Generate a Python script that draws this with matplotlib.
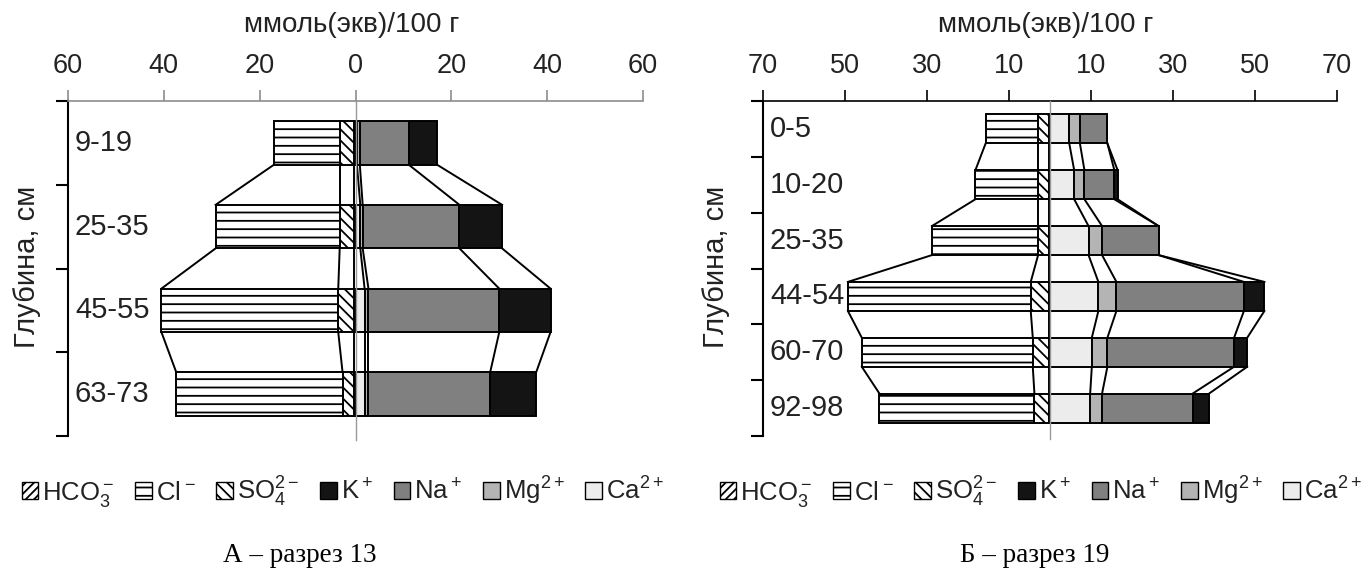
import numpy as np
import matplotlib
matplotlib.use('Agg')
import matplotlib.pyplot as plt
from matplotlib.patches import Patch

plt.rcParams['font.family'] = ['Liberation Sans', 'DejaVu Sans']
plt.rcParams['mathtext.fontset'] = 'custom'
plt.rcParams['mathtext.rm'] = 'Liberation Sans'
plt.rcParams['mathtext.default'] = 'regular'
plt.rcParams['hatch.linewidth'] = 1.3

# --- data, mmol(eq)/100 g ---
a_depth = ['9-19', '25-35', '45-55', '63-73']
a_hco3 = [0.3, 0.3, 0.3, 0.3]
a_so4 = [3.0, 3.0, 3.3, 2.4]
a_cl = [13.7, 25.9, 36.9, 34.7]
a_ca = [0.3, 1.0, 1.9, 1.9]
a_mg = [0.6, 0.5, 0.8, 0.8]
a_na = [10.2, 20.2, 27.3, 25.4]
a_k = [5.9, 8.9, 10.7, 9.6]

b_depth = ['0-5', '10-20', '25-35', '44-54', '60-70', '92-98']
b_hco3 = [0.3, 0.3, 0.3, 0.3, 0.3, 0.3]
b_so4 = [2.6, 2.6, 2.6, 4.4, 3.9, 3.5]
b_cl = [12.8, 15.3, 25.9, 44.6, 41.7, 37.8]
b_ca = [4.7, 5.9, 9.4, 11.8, 10.2, 9.8]
b_mg = [2.6, 2.5, 3.3, 4.4, 3.8, 2.9]
b_na = [6.7, 7.3, 13.8, 31.1, 30.9, 22.1]
b_k = [0.0, 0.8, 0.0, 5.0, 3.2, 4.0]

ion_labels = [r'HCO$_3^-$', r'Cl$^-$', r'SO$_4^{2-}$', r'K$^+$', r'Na$^+$', r'Mg$^{2+}$', r'Ca$^{2+}$']
fc_k, fc_na, fc_mg, fc_ca = '#141414', '#808080', '#b4b4b4', '#ececec'
h_hco3, h_cl, h_so4 = '////', '--', '\\\\\\'
txt = '#222222'


def draw_panel(ax, depths, hco3, so4, cl, ca, mg, na, k, lim, ticks, spine_col):
    n = len(depths)
    y = np.arange(n) + 0.5
    h = 0.52
    bounds = []
    # anions to the left
    cum = np.zeros(n)
    for vals, hatch in [(hco3, h_hco3), (so4, h_so4), (cl, h_cl)]:
        vals = np.array(vals)
        ax.barh(y, -vals, left=-cum, height=h, color='white', hatch=hatch,
                edgecolor='black', lw=1.4, zorder=3)
        cum = cum + vals
        bounds.append(-cum.copy())
    # cations to the right
    cum = np.zeros(n)
    for vals, fc in [(ca, fc_ca), (mg, fc_mg), (na, fc_na), (k, fc_k)]:
        vals = np.array(vals)
        ax.barh(y, vals, left=cum, height=h, color=fc, edgecolor='black', lw=1.4, zorder=3)
        cum = cum + vals
        bounds.append(cum.copy())
    # series lines between bars
    for b in bounds:
        for i in range(n - 1):
            ax.plot([b[i], b[i + 1]], [y[i] + h / 2, y[i + 1] - h / 2],
                    color='black', lw=1.4, zorder=2)

    ax.plot([0, 0], [0, n + 0.05], color='#999999', lw=1, clip_on=False, zorder=4)

    ax.set_xlim(-lim, lim)
    ax.set_ylim(n, 0)
    ax.xaxis.tick_top()
    ax.set_xticks(ticks)
    ax.set_xticklabels([str(abs(t)) for t in ticks])
    ax.set_yticks(np.arange(n + 1))
    ax.set_yticklabels([])
    for s in ['bottom', 'right']:
        ax.spines[s].set_visible(False)
    ax.spines['top'].set_color(spine_col)
    ax.spines['top'].set_linewidth(1.2)
    ax.spines['left'].set_linewidth(1.5)
    ax.tick_params(axis='x', direction='out', length=8, width=1.2, color=spine_col,
                   labelsize=19.5, pad=8, labelcolor=txt)
    ax.tick_params(axis='y', direction='out', length=9, width=1.5)

    for yi, d in zip(y, depths):
        ax.annotate(d, xy=(0, yi), xycoords=('axes fraction', 'data'), xytext=(5, 0),
                    textcoords='offset points', va='center', ha='left', fontsize=21,
                    color=txt)


fig = plt.figure(figsize=(13.72, 5.79), dpi=100)
ax1 = fig.add_axes([68 / 1372, 1 - 436 / 579, 575 / 1372, 335 / 579])
ax2 = fig.add_axes([763 / 1372, 1 - 436 / 579, 574 / 1372, 335 / 579])

draw_panel(ax1, a_depth, a_hco3, a_so4, a_cl, a_ca, a_mg, a_na, a_k,
           60, [-60, -40, -20, 0, 20, 40, 60], '#8c8c8c')
draw_panel(ax2, b_depth, b_hco3, b_so4, b_cl, b_ca, b_mg, b_na, b_k,
           70, [-70, -50, -30, -10, 10, 30, 50, 70], 'black')

for cx, ylx in [(352, 27), (1046, 716)]:
    fig.text(cx / 1372, 1 - 25 / 579, 'ммоль(экв)/100 г', ha='center', va='center',
             fontsize=20, color=txt)
    fig.text(ylx / 1372, 1 - 267 / 579, 'Глубина, см', rotation=90, ha='center',
             va='center', fontsize=21, color=txt)

handles = [Patch(facecolor='white', edgecolor='black', hatch=h_hco3),
           Patch(facecolor='white', edgecolor='black', hatch=h_cl),
           Patch(facecolor='white', edgecolor='black', hatch=h_so4),
           Patch(facecolor=fc_k, edgecolor='black'),
           Patch(facecolor=fc_na, edgecolor='black'),
           Patch(facecolor=fc_mg, edgecolor='black'),
           Patch(facecolor=fc_ca, edgecolor='black')]
for cx in [343, 1041]:
    fig.legend(handles, ion_labels, loc='center', bbox_to_anchor=(cx / 1372, 1 - 492 / 579),
               ncol=7, frameon=False, fontsize=18.5, handlelength=0.65, handleheight=0.65,
               handletextpad=0.15, columnspacing=0.8, borderpad=0, labelcolor=txt)

fig.text(300 / 1372, 1 - 555 / 579, 'А – разрез 13', ha='center', va='center',
         fontsize=19.5, family='Liberation Serif')
fig.text(1035 / 1372, 1 - 555 / 579, 'Б – разрез 19', ha='center', va='center',
         fontsize=19.5, family='Liberation Serif')

fig.savefig('out.png', dpi=100)
